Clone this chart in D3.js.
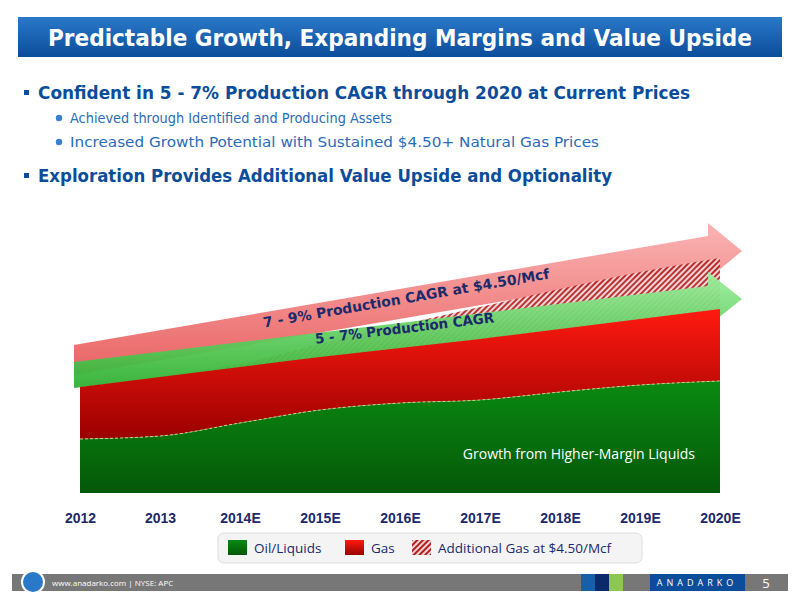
<!DOCTYPE html><html><head><meta charset="utf-8"><script src="https://cdn.jsdelivr.net/npm/d3@7"></script>
<style>body{margin:0;background:#fff}svg{display:block}</style></head><body><svg id="c" width="800" height="600"></svg>
<script>
const years=["2012","2013","2014E","2015E","2016E","2017E","2018E","2019E","2020E"];
const oil=[54,57,70,83,90,93,101,108,112];
const gas=[52,59,56,53,55,61,63,66,72];
const addGas=[0,0,3,13,23,32,40,47,51];
const arrowPink=[133,242];
const arrowGreen=[118,194];
const svg=d3.select("#c");
const defs=svg.append("defs");
const g1=defs.append("linearGradient").attr("id","hdr").attr("x1",0).attr("y1",0).attr("x2",0).attr("y2",1);
g1.append("stop").attr("offset",0).attr("stop-color","#2a78c8");g1.append("stop").attr("offset",1).attr("stop-color","#0b4d9a");
const gg=defs.append("linearGradient").attr("id","oilg").attr("x1",0).attr("y1",0).attr("x2",0).attr("y2",1);
gg.append("stop").attr("offset",0).attr("stop-color","#0a8a12");gg.append("stop").attr("offset",1).attr("stop-color","#045808");
const gr=defs.append("linearGradient").attr("id","gasg").attr("x1",0).attr("y1",0).attr("x2",0).attr("y2",1);
gr.append("stop").attr("offset",0).attr("stop-color","#ff1a10");gr.append("stop").attr("offset",1).attr("stop-color","#9a0000");
const pat=defs.append("pattern").attr("id","hatch").attr("width",4).attr("height",4).attr("patternUnits","userSpaceOnUse").attr("patternTransform","rotate(45)");
pat.append("rect").attr("width",4).attr("height",4).attr("fill","#f4d0d0");
pat.append("rect").attr("width",2).attr("height",4).attr("fill","#b02020");
const pg=defs.append("linearGradient").attr("id","pinkg").attr("x1",0).attr("y1",0).attr("x2",0).attr("y2",1);
pg.append("stop").attr("offset",0).attr("stop-color","#fbb0b0");pg.append("stop").attr("offset",1).attr("stop-color","#e85a5a");
const grg=defs.append("linearGradient").attr("id","greeng").attr("x1",0).attr("y1",0).attr("x2",0).attr("y2",1);
grg.append("stop").attr("offset",0).attr("stop-color","#9ff09f");grg.append("stop").attr("offset",1).attr("stop-color","#2fb02f");

svg.append("rect").attr("x",18).attr("y",17).attr("width",764).attr("height",40).attr("fill","url(#hdr)");
svg.append("text").attr("x",48).attr("y",46).attr("textLength",704).attr("lengthAdjust","spacingAndGlyphs").attr("fill","#fff").attr("font-family","DejaVu Sans, sans-serif").attr("font-weight","bold").attr("font-size",23).text("Predictable Growth, Expanding Margins and Value Upside");
const F="Open Sans, sans-serif";
function bullet(x,y,t,size,col,sq,len){
  if(sq) svg.append("rect").attr("x",x).attr("y",y-9).attr("width",5).attr("height",5).attr("fill","#0b4d9a");
  else svg.append("circle").attr("cx",x+3).attr("cy",y-5).attr("r",3.2).attr("fill","#3a80c8");
  svg.append("text").attr("x",x+14).attr("y",y).attr("textLength",len).attr("lengthAdjust","spacingAndGlyphs").attr("font-family","DejaVu Sans, sans-serif").attr("font-size",size).attr("fill",col).attr("font-weight",sq?"bold":"normal").text(t);
}
bullet(24,99,"Confident in 5 - 7% Production CAGR through 2020 at Current Prices",18,"#0b4d9a",true,652);
bullet(56,123,"Achieved through Identified and Producing Assets",14,"#2a6cb8",false,322);
bullet(56,147,"Increased Growth Potential with Sustained $4.50+ Natural Gas Prices",14,"#2a6cb8",false,529);
bullet(24,182,"Exploration Provides Additional Value Upside and Optionality",18,"#0b4d9a",true,574);

const x=d3.scalePoint().domain(years).range([80,720]);
const y=d3.scaleLinear().domain([0,300]).range([493,193]);
const data=years.map((yr,i)=>({yr,oil:oil[i],gas:gas[i],add:addGas[i]}));
const st=d3.stack().keys(["oil","gas","add"])(data);
const fills=["url(#oilg)","url(#gasg)","url(#hatch)"];
const area=d3.area().x(d=>x(d.data.yr)).y0(d=>y(d[0])).y1(d=>y(d[1])).curve(d3.curveMonotoneX);

function arrow(lv,fill,h,hh){
  const x0=x(years[0])-6,x1=x(years[8])-12,tip=x(years[8])+22;
  const y0=y(lv[0]),y1=y(lv[1]);
  const pts=[[x0,y0-h],[x1,y1-h],[x1,y1-hh],[tip,y1],[x1,y1+hh],[x1,y1+h],[x0,y0+h]];
  svg.append("path").attr("d",d3.line()(pts)+"Z").attr("fill",fill).attr("opacity",0.95);
  return {x0,x1,y0,y1};
}
const a1=arrow(arrowPink,"url(#pinkg)",15,28);
svg.append("path").datum(st[2]).attr("d",area).attr("fill",fills[2]).attr("opacity",0.9);
const a2=arrow(arrowGreen,"url(#greeng)",13,27);
svg.append("path").datum(st[1]).attr("d",area).attr("fill",fills[1]);
svg.append("path").datum(st[0]).attr("d",area).attr("fill",fills[0]);
svg.append("path").datum(st[0]).attr("d",d3.line().x(d=>x(d.data.yr)).y(d=>y(d[1])).curve(d3.curveMonotoneX)).attr("fill","none").attr("stroke","#c9d08a").attr("stroke-width",1).attr("stroke-dasharray","3,2");
const ang=Math.atan2(a1.y1-a1.y0,a1.x1-a1.x0)*180/Math.PI;
function lbl(t,cx,cy,a,len){svg.append("text").attr("transform",`translate(${cx},${cy}) rotate(${a})`).attr("text-anchor","middle").attr("textLength",len).attr("lengthAdjust","spacingAndGlyphs").attr("font-family","DejaVu Sans, sans-serif").attr("font-weight","bold").attr("font-size",14).attr("fill","#1a2a6a").text(t);}
lbl("7 - 9% Production CAGR at $4.50/Mcf",407,303,ang,290);
const ang2=Math.atan2(a2.y1-a2.y0,a2.x1-a2.x0)*180/Math.PI;
lbl("5 - 7% Production CAGR",405,333,ang2,180);
svg.append("text").attr("x",695).attr("y",459).attr("text-anchor","end").attr("font-family",F).attr("font-size",14).attr("fill","#fff").text("Growth from Higher-Margin Liquids");
const ax=svg.append("g").attr("transform","translate(0,493)").call(d3.axisBottom(x).tickSize(0).tickPadding(20));
ax.select(".domain").remove();
ax.selectAll("text").attr("font-family","Liberation Sans, sans-serif").attr("font-weight","bold").attr("font-size",14).attr("fill","#1a2a6a");
svg.append("rect").attr("x",218).attr("y",533).attr("width",424).attr("height",30).attr("rx",6).attr("fill","#f4f4f4").attr("stroke","#ddd");
const leg=[["Oil/Liquids","url(#oilg)",228],["Gas","url(#gasg)",345],["Additional Gas at $4.50/Mcf","url(#hatch)",412]];
leg.forEach(([t,f,lx])=>{svg.append("rect").attr("x",lx).attr("y",540).attr("width",19).attr("height",15).attr("fill",f);
svg.append("text").attr("x",lx+26).attr("y",553).attr("font-family",F).attr("font-size",13.5).attr("fill","#1a2a6a").text(t);});
svg.append("rect").attr("x",12).attr("y",574).attr("width",776).attr("height",17).attr("fill","#777");
svg.append("circle").attr("cx",33).attr("cy",582).attr("r",11).attr("fill","#2a78c8").attr("stroke","#fff").attr("stroke-width",2);
svg.append("text").attr("x",52).attr("y",586).attr("font-family",F).attr("font-size",8).attr("fill","#fff").text("www.anadarko.com  |  NYSE: APC");
[["#1560a8",581],["#0b2a6a",595],["#8cc850",609]].forEach(([c,xx])=>svg.append("rect").attr("x",xx).attr("y",574).attr("width",14).attr("height",17).attr("fill",c));
svg.append("rect").attr("x",650).attr("y",574).attr("width",95).attr("height",17).attr("fill","#0b4d9a");
svg.append("text").attr("x",697).attr("y",586).attr("text-anchor","middle").attr("font-family",F).attr("font-size",9).attr("letter-spacing",4).attr("fill","#fff").text("ANADARKO");
svg.append("text").attr("x",766).attr("y",588).attr("text-anchor","middle").attr("font-family",F).attr("font-size",13).attr("fill","#fff").text("5");
</script></body></html>
